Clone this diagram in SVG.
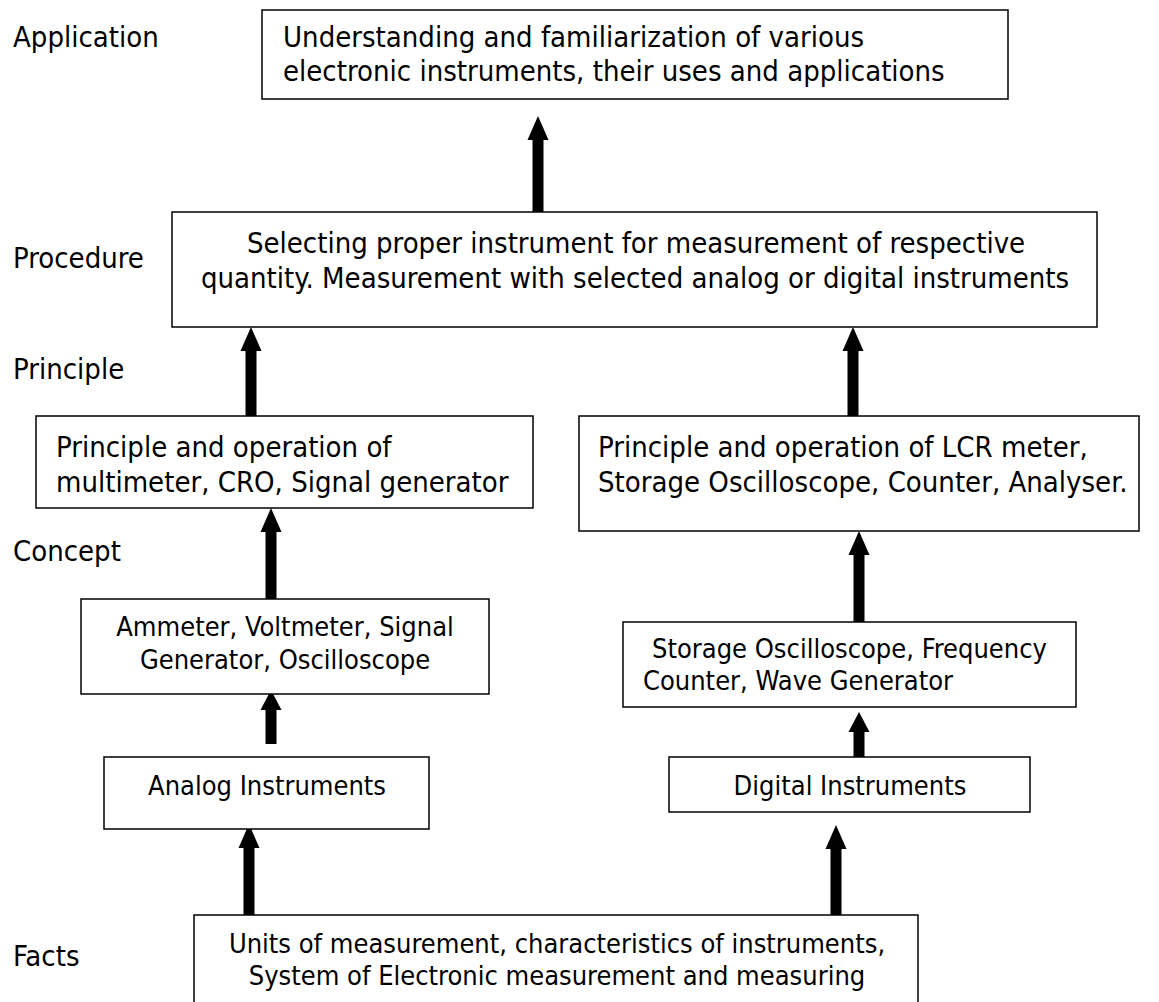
<svg xmlns="http://www.w3.org/2000/svg" width="1159" height="1002" viewBox="0 0 1159 1002">
<style>
.t{font-family:'DejaVu Sans Condensed','DejaVu Sans',sans-serif;font-size:29px;fill:#000}
.s{font-size:27px}
.m{text-anchor:middle}
.box{fill:#fff;stroke:#000;stroke-width:1.5}
.arr{fill:#000;stroke:none}
</style>
<rect width="1159" height="1002" fill="#fff"/>
<g id="labels">
<text class="t" x="13" y="47">Application</text>
<text class="t" x="13" y="268">Procedure</text>
<text class="t" x="13" y="379">Principle</text>
<text class="t" x="13" y="561">Concept</text>
<text class="t" x="13" y="966">Facts</text>
</g>
<g id="connectors">
<polygon class="arr" points="538,116 548.5,140 543.5,140 543.5,212 532.5,212 532.5,140 527.5,140"/>
<polygon class="arr" points="251,327 261.5,351 256.5,351 256.5,416 245.5,416 245.5,351 240.5,351"/>
<polygon class="arr" points="853,327 863.5,351 858.5,351 858.5,416 847.5,416 847.5,351 842.5,351"/>
<polygon class="arr" points="271,508 281.5,532 276.5,532 276.5,599 265.5,599 265.5,532 260.5,532"/>
<polygon class="arr" points="859,531 869.5,555 864.5,555 864.5,622 853.5,622 853.5,555 848.5,555"/>
<polygon class="arr" points="271,690 281.5,710 276.5,710 276.5,744 265.5,744 265.5,710 260.5,710"/>
<polygon class="arr" points="859,712 869.5,732 864.5,732 864.5,767 853.5,767 853.5,732 848.5,732"/>
<polygon class="arr" points="249,824 259.5,848 254.5,848 254.5,915 243.5,915 243.5,848 238.5,848"/>
<polygon class="arr" points="836,825 846.5,849 841.5,849 841.5,915 830.5,915 830.5,849 825.5,849"/>
</g>
<g id="application">
<rect class="box" x="262" y="10" width="746" height="89"/>
<text class="t" x="283" y="47">Understanding and familiarization of various</text>
<text class="t" x="283" y="81">electronic instruments, their uses and applications</text>
</g>
<g id="procedure">
<rect class="box" x="172" y="212" width="925" height="115"/>
<text class="t m" x="636" y="253">Selecting proper instrument for measurement of respective</text>
<text class="t m" x="635" y="288">quantity. Measurement with selected analog or digital instruments</text>
</g>
<g id="principle-left">
<rect class="box" x="36" y="416" width="497" height="92"/>
<text class="t" x="56" y="457">Principle and operation of</text>
<text class="t" x="56" y="492">multimeter, CRO, Signal generator</text>
</g>
<g id="principle-right">
<rect class="box" x="579" y="416" width="560" height="115"/>
<text class="t" x="598" y="457">Principle and operation of LCR meter,</text>
<text class="t" x="598" y="492">Storage Oscilloscope, Counter, Analyser.</text>
</g>
<g id="concept-left">
<rect class="box" x="81" y="599" width="408" height="95"/>
<text class="t s m" x="285" y="636">Ammeter, Voltmeter, Signal</text>
<text class="t s m" x="285" y="669">Generator, Oscilloscope</text>
</g>
<g id="concept-right">
<rect class="box" x="623" y="622" width="453" height="85"/>
<text class="t s" x="652" y="658">Storage Oscilloscope, Frequency</text>
<text class="t s" x="643" y="690">Counter, Wave Generator</text>
</g>
<g id="analog">
<rect class="box" x="104" y="757" width="325" height="72"/>
<text class="t s m" x="267" y="795">Analog Instruments</text>
</g>
<g id="digital">
<rect class="box" x="669" y="757" width="361" height="55"/>
<text class="t s m" x="850" y="795">Digital Instruments</text>
</g>
<g id="facts">
<rect class="box" x="194" y="915" width="724" height="100"/>
<text class="t s m" x="557" y="953">Units of measurement, characteristics of instruments,</text>
<text class="t s m" x="557" y="985">System of Electronic measurement and measuring</text>
</g>
</svg>
